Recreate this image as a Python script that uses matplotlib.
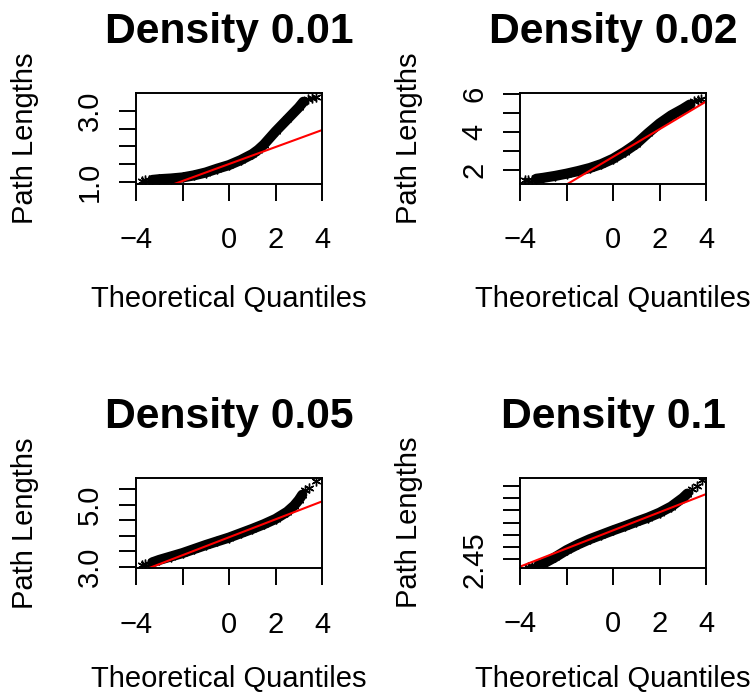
import matplotlib
matplotlib.use("Agg")
import matplotlib.pyplot as plt

plt.rcParams["font.family"] = ["Liberation Sans", "DejaVu Sans"]

# ---------------- data ----------------
titles = ["Density 0.01", "Density 0.02", "Density 0.05", "Density 0.1"]

theo_001 = [-3.75, -3.6, -3.45, -3.3, -3.0, -2.5, -2.0, -1.5, -1.0, -0.5, 0.0, 0.5,
            1.0, 1.25, 1.5, 2.0, 2.5, 3.0, 3.2, 3.4, 3.55, 3.75]
path_001 = [1.02, 1.04, 1.04, 1.05, 1.07, 1.09, 1.12, 1.18, 1.26, 1.37, 1.47, 1.61,
            1.78, 1.90, 2.05, 2.42, 2.76, 3.10, 3.26, 3.34, 3.37, 3.39]

theo_002 = [-3.8, -3.65, -3.5, -3.3, -3.0, -2.5, -2.0, -1.5, -1.0, -0.5, 0.0, 0.5,
            1.0, 1.5, 2.0, 2.5, 3.0, 3.3, 3.5, 3.65, 3.8]
path_002 = [1.43, 1.45, 1.48, 1.52, 1.57, 1.67, 1.79, 1.93, 2.09, 2.30, 2.58, 2.95,
            3.37, 3.93, 4.45, 4.88, 5.22, 5.45, 5.62, 5.70, 5.76]

theo_005 = [-3.76, -3.6, -3.45, -3.3, -3.0, -2.5, -2.0, -1.5, -1.0, -0.5, 0.0, 0.5,
            1.0, 1.5, 2.0, 2.5, 2.8, 3.0, 3.15, 3.28, 3.42, 3.75]
path_005 = [3.05, 3.08, 3.10, 3.14, 3.22, 3.33, 3.44, 3.57, 3.70, 3.82, 3.94, 4.08,
            4.22, 4.37, 4.54, 4.77, 4.97, 5.15, 5.32, 5.46, 5.54, 5.76]

theo_01 = [-3.67, -3.5, -3.35, -3.2, -3.0, -2.5, -2.0, -1.5, -1.0, -0.5, 0.0, 0.5,
           1.0, 1.5, 2.0, 2.5, 3.0, 3.2, 3.4, 3.6, 3.82]
path_01 = [2.420, 2.421, 2.423, 2.426, 2.432, 2.458, 2.487, 2.511, 2.532, 2.550, 2.568,
           2.585, 2.603, 2.620, 2.640, 2.665, 2.700, 2.718, 2.735, 2.748, 2.772]

# sparse tail points at each end (drawn only as individual asterisks)
tails = [(3, 3), (3, 3), (3, 3), (3, 3)]

# qqline: slope, intercept
qq_slope = [0.24, 0.733, 0.289, 0.037]
qq_icept = [1.50, 2.68, 3.95, 2.568]

x_ticks = [-4, -2, 0, 2, 4]
x_tick_labels = ["\u22124", "", "0", "2", "4"]

y_ticks = [
    [1.0, 1.5, 2.0, 2.5, 3.0],
    [2, 3, 4, 5, 6],
    [3.0, 3.5, 4.0, 4.5, 5.0, 5.5],
    [2.45, 2.50, 2.55, 2.60, 2.65, 2.70, 2.75],
]
y_tick_labels = [
    ["1.0", "", "", "", "3.0"],
    ["2", "", "4", "", "6"],
    ["3.0", "", "", "", "5.0", ""],
    ["2.45", "", "", "", "", "", ""],
]
y_limits = [(0.935, 3.50), (1.243, 6.05), (2.95, 5.87), (2.4157, 2.783)]
x_limits = (-4, 4)

xlabel = "Theoretical Quantiles"
ylabel = "Path Lengths"

theos = [theo_001, theo_002, theo_005, theo_01]
paths = [path_001, path_002, path_005, path_01]

# ---------------- layout (pixels) ----------------
W, H = 753, 692
boxes = [(136, 93.3, 322, 184.0), (520, 93.3, 706, 184.0),
         (136, 477.7, 322, 568.3), (520, 477.7, 706, 567.7)]

fig = plt.figure(figsize=(W / 100, H / 100), dpi=100)
FS = 21
ast = (6, 2, 0)

for i in range(4):
    x0, y0, x1, y1 = boxes[i]
    ax = fig.add_axes([x0 / W, 1 - y1 / H, (x1 - x0) / W, (y1 - y0) / H])
    ax.set_xlim(*x_limits)
    ax.set_ylim(*y_limits[i])
    t, p = theos[i], paths[i]
    lo, hi = tails[i]
    ax.plot(t[lo:len(t) - hi], p[lo:len(p) - hi], color="black", lw=7.3,
            solid_capstyle="round", solid_joinstyle="round")
    ax.plot(t, p, ls="none", marker=ast, ms=7, mew=1.0, color="black")
    ax.axline((0, qq_icept[i]), slope=qq_slope[i], color="#ff0000", lw=1.5)

    ax.set_xticks(x_ticks)
    ax.set_xticklabels(x_tick_labels)
    ax.set_yticks(y_ticks[i])
    ax.set_yticklabels(y_tick_labels[i], rotation=90, va="center")
    ax.tick_params(axis="both", length=12, width=1.4, labelsize=FS)
    ax.tick_params(axis="x", pad=18.5)
    ax.tick_params(axis="y", pad=11)
    for s in ax.spines.values():
        s.set_linewidth(1.4)

    ax.set_title(titles[i], fontsize=30.7, fontweight="bold", pad=36)
    cx = (x0 + x1) / 2
    fig.text(cx / W, 1 - min(y1 + 123, 687.5) / H, xlabel, ha="center", va="baseline",
             fontsize=FS)
    fig.text((x0 - 102.7) / W, 1 - ((y0 + y1) / 2) / H, ylabel, rotation=90,
             rotation_mode="anchor", ha="center", va="baseline", fontsize=FS)

fig.savefig("out.png", dpi=100)
